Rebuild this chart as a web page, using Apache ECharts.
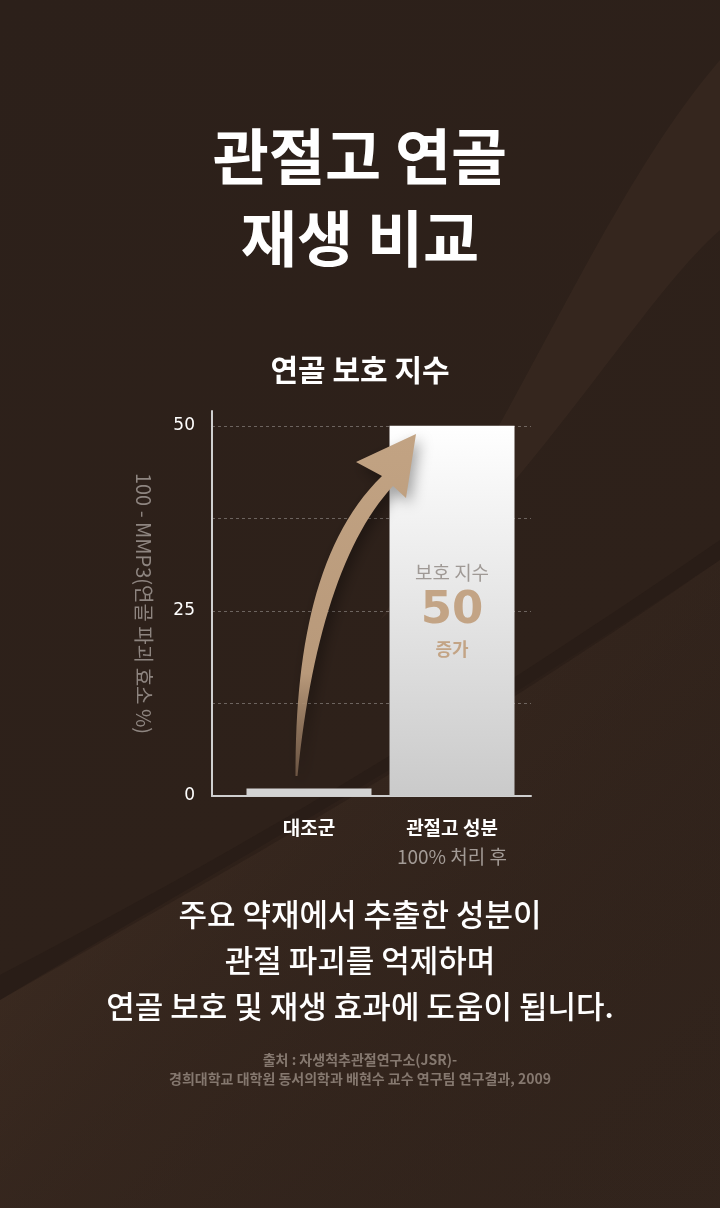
<!DOCTYPE html>
<html>
<head>
<meta charset="utf-8">
<title>관절고 연골 재생 비교</title>
<script src="https://cdn.jsdelivr.net/npm/echarts@6/dist/echarts.min.js"></script>
<style>
  html, body { margin: 0; padding: 0; background: #2d201a; }
  #chart { width: 720px; height: 1208px; }
</style>
</head>
<body>
<div id="chart"></div>
<script>
// Data
const categories = ['대조군', '관절고 성분'];
const categorySubs = ['', '100% 처리 후'];
const protectIndex = [1, 50];
const yTickLabels = [0, 25, 50];

const FONT = '"Noto Sans CJK KR", "Noto Sans", sans-serif';
const NUM_FONT = '"DejaVu Sans", "Noto Sans", sans-serif';

const myChart = echarts.init(document.getElementById('chart'));

// sample a cubic bezier into points (for decorative shapes)
function bez(p0, p1, p2, p3, n) {
    const pts = [];
    for (let i = 0; i <= n; i++) {
        const t = i / n, u = 1 - t;
        pts.push([
            u * u * u * p0[0] + 3 * u * u * t * p1[0] + 3 * u * t * t * p2[0] + t * t * t * p3[0],
            u * u * u * p0[1] + 3 * u * u * t * p1[1] + 3 * u * t * t * p2[1] + t * t * t * p3[1]
        ]);
    }
    return pts;
}

// curved arrow outline
const arrowPts = [].concat(
    bez([295.5, 776], [295, 650], [316, 540], [382, 476], 30),
    [[356, 462], [416, 434], [406, 498], [393, 486]],
    bez([393, 486], [343, 540], [311, 640], [297.5, 776], 30)
);

// background swoosh outlines
const swooshA = [].concat(bez([0, 1000], [200, 880], [420, 760], [720, 560], 40), [[720, 1208], [0, 1208]]);
const swooshB = [].concat(bez([0, 975], [220, 860], [430, 740], [720, 540], 40), bez([720, 560], [430, 760], [210, 880], [0, 1000], 40));
const swooshC = [].concat(bez([720, 60], [600, 200], [520, 420], [380, 620], 40), bez([380, 620], [540, 480], [640, 300], [720, 230], 40));

// bar styles: control flat grey, treatment white -> grey
const barData = protectIndex.map((v, i) => {
    if (i === 0) {
        return { value: v, itemStyle: { color: '#d3d3d3' }, label: { show: false } };
    }
    return {
        value: v,
        itemStyle: {
            color: new echarts.graphic.LinearGradient(0, 0, 0, 1, [
                { offset: 0, color: '#ffffff' },
                { offset: 0.55, color: '#e2e2e2' },
                { offset: 1, color: '#cacaca' }
            ])
        }
    };
});

const option = {
    backgroundColor: new echarts.graphic.LinearGradient(0, 0, 1, 1, [
        { offset: 0, color: '#2c201a' },
        { offset: 0.6, color: '#2e211a' },
        { offset: 1, color: '#33251d' }
    ]),
    textStyle: { fontFamily: FONT },
    title: [
        {
            text: '관절고 연골\n재생 비교',
            left: 'center',
            top: 111,
            textStyle: { color: '#ffffff', fontSize: 61, fontWeight: 'bold', lineHeight: 82, fontFamily: FONT }
        },
        {
            text: '연골 보호 지수',
            left: 'center',
            top: 350,
            textStyle: { color: '#ffffff', fontSize: 30, fontWeight: 'bold', fontFamily: FONT }
        },
        {
            text: '주요 약재에서 추출한 성분이\n관절 파괴를 억제하며\n연골 보호 및 재생 효과에 도움이 됩니다.',
            left: 'center',
            top: 886,
            textStyle: { color: '#ffffff', fontSize: 31, fontWeight: 500, lineHeight: 46, fontFamily: FONT }
        },
        {
            text: '출처 : 자생척추관절연구소(JSR)-\n경희대학교 대학원 동서의학과 배현수 교수 연구팀 연구결과, 2009',
            left: 'center',
            top: 1045,
            textStyle: { color: '#85786f', fontSize: 14, lineHeight: 19, fontFamily: FONT }
        }
    ],
    grid: [
        { left: 212, right: 189, top: 411, bottom: 412 },
        { left: 237.5, right: 196.5, top: 411, bottom: 412 }
    ],
    xAxis: [
        {
            gridIndex: 0,
            type: 'value',
            min: 0,
            max: 1,
            axisLine: { show: true, lineStyle: { color: '#cfcfcf', width: 2 } },
            axisTick: { show: false },
            axisLabel: { show: false },
            splitLine: { show: false }
        },
        {
            gridIndex: 1,
            type: 'category',
            data: categories,
            axisLine: { show: false },
            axisTick: { show: false },
            axisLabel: {
                margin: 17,
                interval: 0,
                formatter: (value, index) => {
                    const sub = categorySubs[index];
                    return sub ? '{a|' + value + '}\n{b|' + sub + '}' : '{a|' + value + '}';
                },
                rich: {
                    a: { fontSize: 19, fontWeight: 'bold', color: '#ffffff', lineHeight: 29, fontFamily: FONT },
                    b: { fontSize: 19, color: '#a39b96', lineHeight: 29, fontFamily: FONT }
                }
            }
        }
    ],
    yAxis: [
        {
            gridIndex: 0,
            type: 'value',
            min: 0,
            max: 52,
            interval: 12.5,
            name: '100 - MMP3(연골 파괴 효소 %)',
            nameLocation: 'middle',
            nameRotate: -90,
            nameGap: 58,
            nameTextStyle: { color: '#8e8580', fontSize: 20, fontFamily: FONT },
            axisLine: { show: true, lineStyle: { color: '#cfcfcf', width: 2 } },
            axisTick: { show: false },
            axisLabel: {
                color: '#ffffff',
                fontSize: 17,
                fontFamily: NUM_FONT,
                margin: 17,
                showMaxLabel: false,
                formatter: v => (yTickLabels.indexOf(v) >= 0 ? String(v) : '')
            },
            splitLine: {
                show: true,
                showMinLine: false,
                showMaxLine: false,
                lineStyle: { color: 'rgba(255,255,255,0.3)', type: [3, 3], width: 1 }
            }
        },
        {
            gridIndex: 1,
            type: 'value',
            min: 0,
            max: 52,
            show: false
        }
    ],
    series: [
        {
            type: 'bar',
            xAxisIndex: 1,
            yAxisIndex: 1,
            barWidth: 125,
            data: barData,
            label: {
                show: true,
                position: 'inside',
                formatter: p => '{t|보호 지수}\n{n|' + p.value + '}\n{u|증가}',
                rich: {
                    t: { fontSize: 19, color: '#9f9995', lineHeight: 26, fontFamily: FONT },
                    n: { fontSize: 45, fontWeight: 'bold', color: '#c3a485', lineHeight: 50, fontFamily: NUM_FONT },
                    u: { fontSize: 18, fontWeight: 'bold', color: '#c3a485', lineHeight: 26, fontFamily: FONT }
                }
            }
        }
    ],
    graphic: [
        // background swooshes
        {
            type: 'polygon',
            z: -10,
            silent: true,
            shape: { points: swooshA },
            style: {
                fill: new echarts.graphic.LinearGradient(0, 0, 1, 1, [
                    { offset: 0, color: 'rgba(100,72,52,0.5)' },
                    { offset: 0.45, color: 'rgba(70,50,38,0.25)' },
                    { offset: 1, color: 'rgba(40,28,22,0.05)' }
                ])
            }
        },
        {
            type: 'polygon',
            z: -10,
            silent: true,
            shape: { points: swooshB },
            style: { fill: 'rgba(30,20,15,0.3)' }
        },
        {
            type: 'polygon',
            z: -10,
            silent: true,
            shape: { points: swooshC },
            style: { fill: 'rgba(80,58,44,0.22)' }
        },
        // axis line running past the top tick
        {
            type: 'line',
            z: 5,
            silent: true,
            shape: { x1: 212, y1: 411, x2: 212, y2: 426 },
            style: { stroke: '#cfcfcf', lineWidth: 2 }
        },
        // curved arrow
        {
            type: 'polygon',
            z: 100,
            silent: true,
            shape: { points: arrowPts },
            style: {
                fill: new echarts.graphic.LinearGradient(0, 0, 0, 1, [
                    { offset: 0, color: '#c2a383' },
                    { offset: 0.7, color: '#b8997a' },
                    { offset: 1, color: 'rgba(150,120,95,0.6)' }
                ]),
                shadowBlur: 14,
                shadowColor: 'rgba(0,0,0,0.35)',
                shadowOffsetX: 4,
                shadowOffsetY: 6
            }
        }
    ]
};

if (option && typeof option === 'object') {
    myChart.setOption(option, true);
}
</script>
</body>
</html>
